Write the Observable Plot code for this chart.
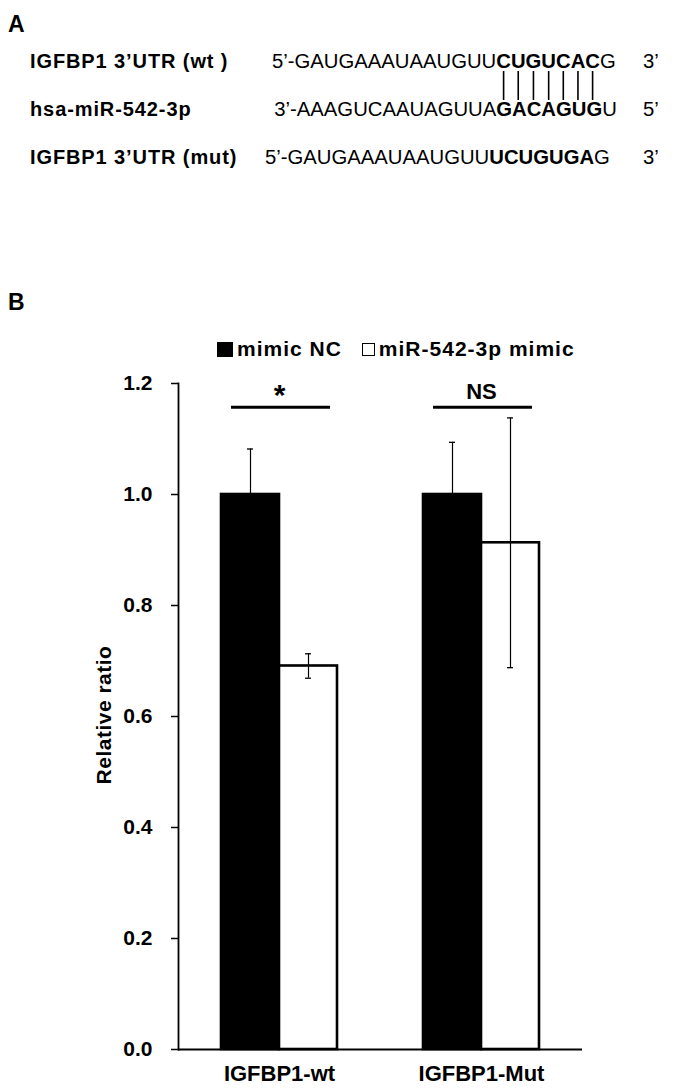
<!DOCTYPE html>
<html><head><meta charset="utf-8">
<script src="https://cdn.jsdelivr.net/npm/d3@7"></script>
<script src="https://cdn.jsdelivr.net/npm/@observablehq/plot@0.6"></script>
<style>
html,body{margin:0;padding:0;background:#fff;}
body{width:685px;height:1089px;position:relative;overflow:hidden;font-family:"Liberation Sans",Arial,sans-serif;color:#000;}
#panelA{position:absolute;left:0;top:0;}
.panel-letter{position:absolute;font-weight:bold;font-size:23px;line-height:1;}
#legend{position:absolute;top:340px;left:217px;height:18px;display:flex;align-items:center;font-weight:bold;font-size:21px;letter-spacing:1px;white-space:nowrap;}
#legend .sw{display:inline-block;box-sizing:border-box;margin-right:4px;}
#legend .item{display:flex;align-items:center;margin-right:20px;}
#ylabel{position:absolute;left:104px;top:715px;transform:translate(-50%,-50%) rotate(-90deg);font-weight:bold;font-size:21px;letter-spacing:0.5px;white-space:nowrap;}
#chart{position:absolute;left:0;top:360px;}
</style></head><body>
<svg id="panelA" width="685" height="190"></svg>
<div class="panel-letter" style="left:8px;top:13px">A</div>
<div class="panel-letter" style="left:8px;top:291px">B</div>
<div id="legend"></div>
<div id="ylabel"></div>
<div id="chart"></div>
<script>
// ---- data ----
const groups = ["IGFBP1-wt", "IGFBP1-Mut"];
const series = ["mimic NC", "miR-542-3p mimic"];
const ncValues = [1.0, 1.0];
const ncErrors = [0.082, 0.094];
const mimicValues = [0.691, 0.913];
const mimicErrors = [0.022, 0.225];
const sigLabels = ["*", "NS"];
const sigLevel = 1.157;
const yTicks = [0, 0.2, 0.4, 0.6, 0.8, 1.0, 1.2];
const yLabel = "Relative ratio";

const seqLabels = ["IGFBP1 3\u2019UTR (wt )", "hsa-miR-542-3p", "IGFBP1 3\u2019UTR (mut)"];
const seqHead = ["5\u2019-GAUGAAAUAAUGUU", "3\u2019-AAAGUCAAUAGUUA", "5\u2019-GAUGAAAUAAUGUU"];
const seqSeed = ["CUGUCAC", "GACAGUG", "UCUGUGA"];
const seqTail = ["G", "U", "G"];
const seqEnd = ["3\u2019", "5\u2019", "3\u2019"];

// ---- panel A ----
const svgA = d3.select("#panelA");
const FONT = "Liberation Sans, Arial, sans-serif";
const rowBase = [68, 116, 164];
const seqX = [272, null, 265];   // row 2 is aligned on the seed of row 1
const endX = [643, 643, 643];
const rows = [];
seqLabels.forEach((lab, i) => {
  svgA.append("text").attr("x", 30).attr("y", rowBase[i])
    .attr("font-family", FONT).attr("font-size", 20).attr("font-weight", "bold")
    .attr("letter-spacing", 0.9).text(lab);
  const t = svgA.append("text").attr("x", seqX[i] ?? 0).attr("y", rowBase[i])
    .attr("font-family", FONT).attr("font-size", 20.3);
  t.append("tspan").text(seqHead[i]);
  t.append("tspan").attr("font-weight", "bold").text(seqSeed[i]);
  t.append("tspan").text(seqTail[i]);
  svgA.append("text").attr("x", endX[i]).attr("y", rowBase[i])
    .attr("font-family", FONT).attr("font-size", 20.3).text(seqEnd[i]);
  rows.push(t);
});
{
  // align the seed of the miRNA with the seed of the wt UTR
  const s0 = rows[0].node().getStartPositionOfChar(seqHead[0].length).x;
  const s1 = rows[1].node().getStartPositionOfChar(seqHead[1].length).x;
  rows[1].attr("x", s0 - s1);
  // pairing lines
  const n0 = seqHead[0].length;
  for (let k = 0; k < seqSeed[0].length; k++) {
    const ext = rows[0].node().getExtentOfChar(n0 + k);
    const cx = ext.x + ext.width / 2;
    svgA.append("line").attr("x1", cx).attr("x2", cx)
      .attr("y1", rowBase[0] + 3).attr("y2", rowBase[1] - 16)
      .attr("stroke", "#000").attr("stroke-width", 1.6);
  }
}

// ---- legend ----
const leg = d3.select("#legend");
series.forEach((s, i) => {
  const it = leg.append("div").attr("class", "item");
  it.append("span").attr("class", "sw")
    .style("width", i === 0 ? "16px" : "13px").style("height", i === 0 ? "15px" : "13px")
    .style("background", i === 0 ? "#000" : "#fff")
    .style("border", i === 0 ? "none" : "1.6px solid #000");
  it.append("span").text(s);
});
d3.select("#ylabel").text(yLabel);

// ---- chart B ----
const data = groups.flatMap((g, i) => [
  {group: g, series: series[0], value: ncValues[i], err: ncErrors[i]},
  {group: g, series: series[1], value: mimicValues[i], err: mimicErrors[i]}
]);
const sig = groups.map((g, i) => ({group: g, label: sigLabels[i], y: sigLevel}));

const chart = Plot.plot({
  width: 685,
  height: 729,
  marginLeft: 178,
  marginRight: 103,
  marginTop: 23,
  marginBottom: 40,
  style: {fontFamily: FONT, background: "transparent", color: "#000", overflow: "visible"},
  fx: {domain: groups, padding: 0, label: null},
  x: {domain: series, paddingInner: 0, paddingOuter: 0.712, axis: null},
  y: {domain: [0, 1.2]},
  color: {domain: series, range: ["#000", "#fff"]},
  marks: [
    Plot.barY(data, {fx: "group", x: "series", y: "value", fill: "series", stroke: "#000", strokeWidth: 2.6}),
    Plot.ruleX(data, {fx: "group", x: "series", y1: d => d.value - d.err, y2: d => d.value + d.err, stroke: "#000", strokeWidth: 1.2}),
    Plot.tickY(data, {fx: "group", x: "series", y: d => d.value + d.err, stroke: "#000", strokeWidth: 1.3, inset: 26}),
    Plot.tickY(data, {fx: "group", x: "series", y: d => d.value - d.err, stroke: "#000", strokeWidth: 1.3, inset: 26}),
    Plot.ruleY([0], {stroke: "#000", strokeWidth: 2}),
    Plot.ruleY(sig, {fx: "group", y: "y", stroke: "#000", strokeWidth: 3, insetLeft: 53, insetRight: 50}),
    Plot.text(sig, {fx: "group", y: "y", text: "label", lineAnchor: "bottom",
      fontSize: d => d.label === "*" ? 30 : 22, fontWeight: "bold"}),
    Plot.frame({anchor: "left", facetAnchor: "left", stroke: "#000", strokeWidth: 1.8}),
    Plot.axisY({ticks: yTicks, tickFormat: d3.format(".1f"), tickSize: 7, tickPadding: 19, strokeWidth: 1.5,
      fontSize: 21, fontWeight: "bold", label: null}),
    Plot.axisFx({anchor: "bottom", tickSize: 0, tickPadding: 16, fontSize: 22, fontWeight: "bold", label: null})
  ]
});
// nudge the significance labels (the asterisk sits lower than "NS")
d3.select(chart).selectAll("text").filter(function() { return this.textContent === "*"; }).attr("dy", "-2");
d3.select(chart).selectAll("text").filter(function() { return this.textContent === "NS"; }).attr("dy", "-8");
document.getElementById("chart").appendChild(chart);
</script>
</body></html>
